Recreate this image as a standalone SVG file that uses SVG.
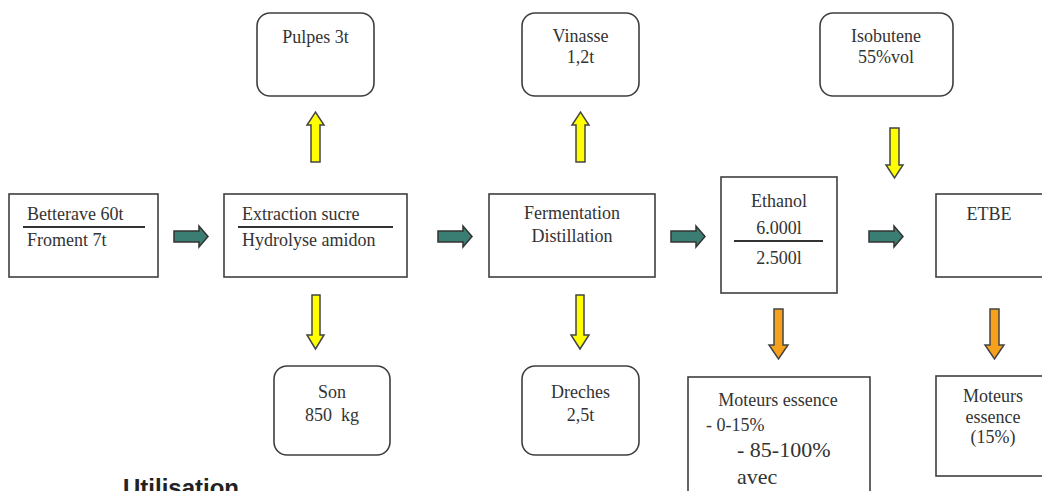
<svg xmlns="http://www.w3.org/2000/svg" width="1042" height="491" viewBox="0 0 1042 491">
<style>
.box{fill:#fff;stroke:#3f3f3f;stroke-width:1.6}
.t{font-family:'Liberation Serif','Times New Roman',Times,serif;font-size:18px;fill:#333}
.c{text-anchor:middle}
.rule{stroke:#333;stroke-width:2}
.teal{fill:#3a7d72;stroke:#333;stroke-width:1.5}
.yel{fill:#ffff00;stroke:#444;stroke-width:1.5}
.org{fill:#f6a11c;stroke:#444;stroke-width:1.5}
</style>
<rect width="1042" height="491" fill="#fff"/>
<g id="connectors">
<path class="teal" d="M174,231 H199 V226 L208,236.5 L199,247 V242 H174 Z"/>
<path class="teal" d="M438,231 H463 V226 L472,236.5 L463,247 V242 H438 Z"/>
<path class="teal" d="M671,231 H696 V226 L705,236.5 L696,247 V242 H671 Z"/>
<path class="teal" d="M869,231 H894 V226 L903,236.5 L894,247 V242 H869 Z"/>
<path class="yel" d="M311,162 V125 H307 L315.5,112 L324,125 H320 V162 Z"/>
<path class="yel" d="M576,162 V125 H572 L580.5,112 L589,125 H585 V162 Z"/>
<path class="yel" d="M890,128 V165 H886 L894.5,178 L903,165 H899 V128 Z"/>
<path class="yel" d="M312,295 V335 H307 L315.5,349 L324,335 H320 V295 Z"/>
<path class="yel" d="M576,295 V335 H571 L580,349 L589,335 H584 V295 Z"/>
<path class="org" d="M774,309 V345 H769 L778.5,359 L788,345 H783 V309 Z"/>
<path class="org" d="M990,309 V345 H985 L994.5,359 L1004,345 H999 V309 Z"/>
</g>
<g id="betterave">
<rect class="box" x="9" y="194" width="149" height="83"/>
<text class="t" x="27" y="220">Betterave 60t</text>
<line class="rule" x1="23" y1="227" x2="145" y2="227"/>
<text class="t" x="27" y="246">Froment 7t</text>
</g>
<g id="extraction">
<rect class="box" x="224" y="194" width="183" height="83"/>
<text class="t" x="242" y="220">Extraction sucre</text>
<line class="rule" x1="238" y1="227" x2="393" y2="227"/>
<text class="t" x="242" y="246">Hydrolyse amidon</text>
</g>
<g id="fermentation">
<rect class="box" x="489" y="194" width="166" height="83"/>
<text class="t c" x="572" y="219">Fermentation</text>
<text class="t c" x="572" y="242">Distillation</text>
</g>
<g id="ethanol">
<rect class="box" x="721" y="177" width="116" height="116"/>
<text class="t c" x="779" y="207">Ethanol</text>
<text class="t c" x="779" y="234">6.000l</text>
<line class="rule" x1="734" y1="241" x2="823" y2="241"/>
<text class="t c" x="779" y="264">2.500l</text>
</g>
<g id="etbe">
<rect class="box" x="936" y="194" width="110" height="83"/>
<text class="t c" x="989" y="220">ETBE</text>
</g>
<g id="pulpes">
<rect class="box" x="257" y="13" width="117" height="83" rx="13"/>
<text class="t c" x="315.5" y="43">Pulpes 3t</text>
</g>
<g id="vinasse">
<rect class="box" x="522" y="13" width="117" height="83" rx="13"/>
<text class="t c" x="580.5" y="42">Vinasse</text>
<text class="t c" x="580.5" y="63">1,2t</text>
</g>
<g id="isobutene">
<rect class="box" x="820" y="13" width="133" height="83" rx="13"/>
<text class="t c" x="886" y="42">Isobutene</text>
<text class="t c" x="886" y="63">55%vol</text>
</g>
<g id="son">
<rect class="box" x="274" y="366" width="116" height="89" rx="13"/>
<text class="t c" x="332" y="398">Son</text>
<text class="t c" x="332" y="421" xml:space="preserve">850  kg</text>
</g>
<g id="dreches">
<rect class="box" x="522" y="366" width="117" height="89" rx="13"/>
<text class="t c" x="580.5" y="398">Dreches</text>
<text class="t c" x="580.5" y="421">2,5t</text>
</g>
<g id="moteurs1">
<rect class="box" x="688" y="377" width="182" height="130"/>
<text class="t c" x="778" y="406">Moteurs essence</text>
<text class="t" x="706" y="431">- 0-15%</text>
<text class="t" x="737" y="457" style="font-size:22px">- 85-100%</text>
<text class="t" x="737" y="484" style="font-size:22px">avec</text>
</g>
<g id="moteurs2">
<rect class="box" x="936" y="376" width="110" height="100"/>
<text class="t c" x="993" y="402">Moteurs</text>
<text class="t c" x="993" y="423">essence</text>
<text class="t c" x="993" y="443">(15%)</text>
</g>
<text x="123" y="496" style="font-family:'Liberation Sans',Arial,sans-serif;font-weight:bold;font-size:24px;fill:#222">Utilisation</text>
</svg>
